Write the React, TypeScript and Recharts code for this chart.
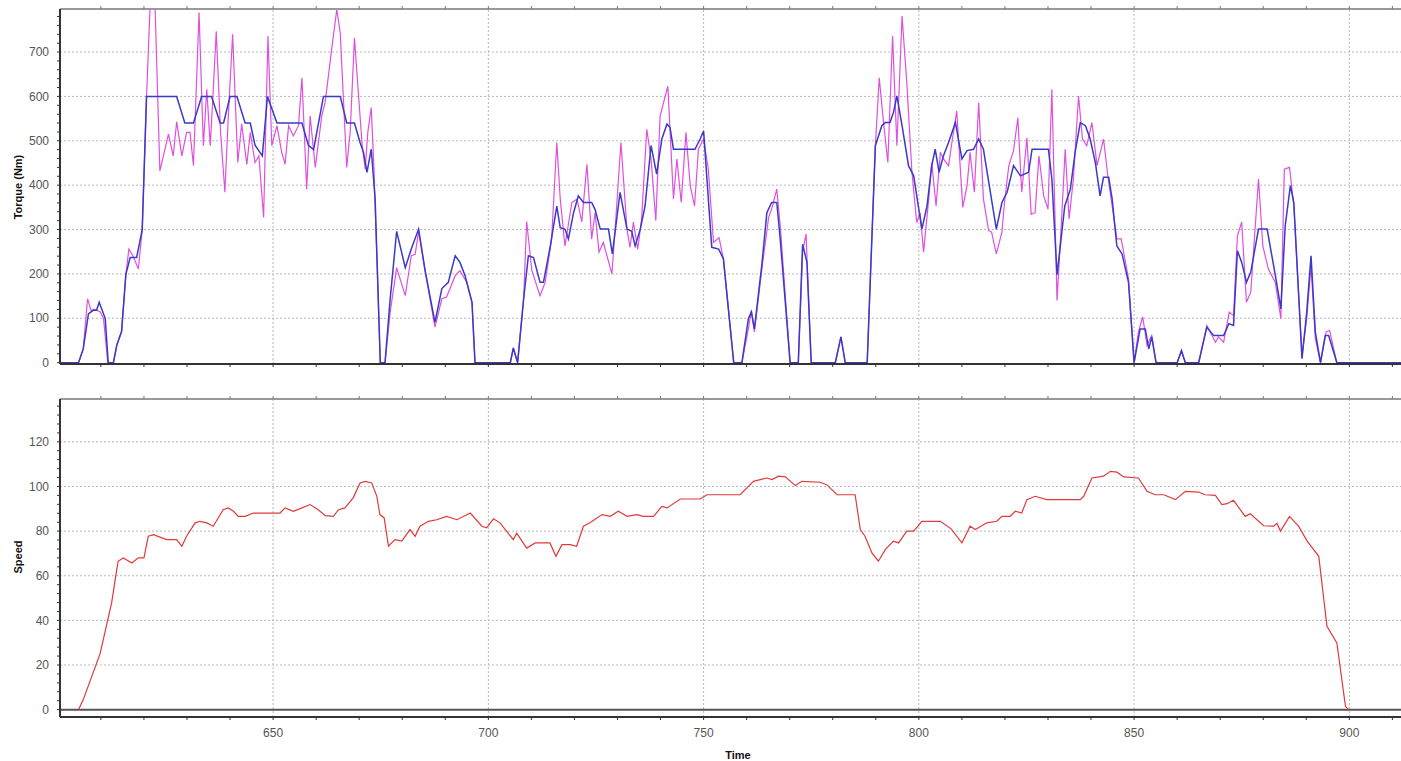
import { LineChart, Line, XAxis, YAxis, ReferenceLine } from "recharts";

// torque request (magenta) [time s, Nm]
const torqueDemand: [number, number][] = [
  [600.5, 0], [604.8, 0], [605.9, 31], [606.9, 144], [607.7, 118], [608.6, 120], [609.8, 115], [610.6, 100],
  [611.6, 0], [612.9, 0], [613.7, 40], [614.8, 70], [615.8, 199], [616.5, 256], [617.5, 240], [618.7, 211],
  [619.6, 300], [620.6, 600], [621.5, 820], [622.5, 830], [623.7, 432], [625.7, 515], [626.8, 466], [627.6, 543],
  [628.8, 466], [629.9, 519], [630.7, 519], [631.5, 444], [632.8, 789], [633.8, 489], [634.6, 616], [635.4, 489],
  [635.9, 578], [636.8, 747], [637.8, 519], [638.8, 384], [639.6, 556], [640.6, 740], [641.8, 451], [642.7, 538],
  [643.9, 447], [644.7, 519], [645.8, 451], [646.7, 466], [647.8, 327], [648.8, 736], [649.7, 489], [650.9, 534],
  [652.0, 474], [652.8, 447], [653.6, 534], [654.7, 511], [655.9, 534], [656.7, 642], [657.8, 391], [658.6, 556],
  [659.8, 440], [661.3, 556], [662.1, 587], [663.6, 706], [664.8, 796], [665.6, 743], [667.1, 440], [667.9, 519],
  [668.9, 732], [669.8, 609], [670.7, 489], [671.4, 436], [672.0, 519], [672.8, 575], [673.4, 444], [674.9, 0],
  [676.0, 0], [677.2, 114], [678.7, 214], [680.7, 151], [682.1, 241], [683.0, 244], [683.8, 296], [685.3, 208],
  [687.6, 80], [689.2, 144], [690.3, 148], [692.3, 196], [693.4, 207], [695.0, 181], [696.2, 136], [696.9, 0],
  [705.1, 0], [705.8, 33], [706.8, 0], [708.2, 144], [708.9, 318], [710.1, 208], [712.0, 151], [713.2, 181],
  [714.7, 279], [715.9, 496], [716.7, 369], [717.8, 263], [719.4, 361], [720.6, 369], [721.7, 317], [722.9, 447],
  [724.0, 279], [724.8, 338], [725.7, 249], [726.7, 271], [728.7, 200], [729.4, 294], [730.8, 496], [732.2, 301],
  [732.9, 260], [733.7, 317], [734.7, 256], [735.6, 324], [736.8, 526], [737.8, 459], [738.9, 320], [739.9, 556],
  [741.7, 623], [743.0, 369], [743.8, 459], [744.8, 361], [745.9, 519], [746.9, 399], [747.9, 353], [748.8, 481],
  [750.0, 504], [751.1, 436], [752.3, 271], [753.6, 282], [754.6, 234], [757.0, 0], [758.9, 0], [760.4, 76],
  [761.1, 118], [761.8, 69], [763.5, 208], [765.1, 327], [765.8, 346], [767.0, 391], [767.8, 309], [770.1, 0],
  [772.0, 0], [773.0, 249], [773.8, 290], [775.0, 0], [780.6, 0], [781.9, 58], [782.9, 0], [788.0, 0],
  [789.9, 489], [790.8, 642], [791.8, 541], [792.8, 451], [793.9, 736], [794.9, 489], [796.1, 781], [797.2, 631],
  [798.4, 429], [799.5, 316], [800.3, 338], [801.1, 249], [802.3, 369], [803.0, 451], [804.0, 353], [805.0, 474],
  [805.7, 459], [806.9, 444], [807.8, 504], [808.8, 567], [810.2, 350], [811.2, 399], [811.9, 474], [812.9, 384],
  [813.9, 586], [815.0, 369], [816.2, 298], [816.9, 294], [818.0, 245], [819.3, 294], [819.9, 361], [820.9, 444],
  [822.0, 478], [823.0, 552], [823.9, 384], [825.1, 507], [826.1, 334], [827.0, 338], [827.9, 466], [829.0, 376],
  [830.0, 346], [830.9, 616], [832.1, 140], [833.2, 331], [834.0, 481], [834.9, 324], [835.9, 414], [837.1, 601],
  [838.0, 504], [839.0, 489], [840.2, 541], [841.4, 444], [842.9, 504], [843.9, 421], [846.0, 279], [847.0, 279],
  [848.7, 189], [850.0, 0], [851.0, 69], [852.0, 103], [853.0, 39], [854.1, 61], [855.1, 0], [860.0, 0],
  [861.0, 27], [861.9, 0], [865.0, 0], [866.9, 84], [868.9, 46], [869.6, 58], [870.8, 46], [872.1, 114],
  [873.1, 106], [874.0, 286], [875.0, 317], [876.1, 136], [877.1, 159], [878.9, 414], [879.9, 263], [881.2, 211],
  [882.8, 181], [884.1, 99], [884.9, 436], [886.1, 440], [887.1, 353], [889.0, 16], [890.1, 99], [891.1, 219],
  [892.1, 54], [893.3, 0], [894.6, 69], [895.4, 73], [897.1, 0], [912, 0],
];

// delivered torque (blue) [time s, Nm]
const torqueActual: [number, number][] = [
  [600.5, 0], [604.8, 0], [605.9, 31], [607.1, 110], [608.2, 118], [609.0, 118], [609.6, 136], [611.0, 100],
  [611.7, 0], [612.9, 0], [613.7, 40], [614.8, 70], [615.8, 199], [616.8, 237], [618.3, 237], [619.6, 300],
  [620.6, 600], [627.6, 600], [629.5, 540], [631.5, 540], [633.4, 600], [635.7, 600], [637.7, 540], [638.5, 540],
  [640.0, 600], [641.6, 600], [643.5, 540], [644.7, 540], [645.8, 490], [647.5, 466], [648.7, 600], [650.9, 540],
  [656.7, 540], [658.2, 490], [659.4, 480], [661.7, 600], [665.6, 600], [667.1, 540], [668.9, 540], [670.2, 496],
  [671.0, 474], [671.8, 429], [672.8, 481], [673.7, 369], [674.9, 0], [676.0, 0], [677.2, 144], [678.7, 296],
  [680.7, 214], [682.2, 259], [683.8, 301], [685.3, 208], [687.6, 91], [689.2, 167], [690.7, 181], [692.3, 241],
  [693.4, 226], [694.6, 196], [696.2, 136], [696.9, 0], [705.1, 0], [705.8, 33], [706.8, 0], [708.2, 144],
  [709.3, 241], [710.5, 237], [712.0, 181], [712.8, 181], [714.4, 263], [715.9, 353], [716.7, 304], [717.8, 301],
  [718.6, 279], [719.8, 338], [720.9, 376], [722.1, 361], [724.0, 361], [724.8, 345], [726.0, 301], [727.9, 301],
  [728.8, 245], [730.6, 384], [732.2, 301], [733.3, 296], [734.1, 263], [735.3, 301], [736.4, 353], [737.8, 489],
  [739.1, 425], [740.3, 504], [741.5, 538], [742.2, 530], [743.0, 481], [748.0, 481], [749.2, 504], [750.0, 522],
  [751.1, 369], [751.9, 260], [753.5, 256], [754.6, 234], [757.0, 0], [758.9, 0], [760.4, 99], [761.1, 114],
  [761.8, 76], [763.5, 218], [764.7, 338], [765.8, 361], [767.0, 361], [767.8, 279], [770.1, 0], [772.0, 0],
  [773.0, 267], [774.0, 226], [775.0, 0], [780.6, 0], [781.9, 58], [782.9, 0], [788.0, 0], [789.9, 489],
  [791.4, 534], [792.2, 541], [793.3, 541], [794.1, 564], [794.9, 601], [796.1, 534], [797.6, 444], [798.8, 421],
  [800.7, 301], [801.9, 353], [803.0, 444], [803.8, 481], [804.7, 429], [805.7, 466], [806.9, 496], [808.5, 541],
  [810.0, 459], [811.2, 478], [812.7, 481], [813.9, 504], [815.0, 481], [818.0, 301], [819.3, 361], [820.5, 384],
  [822.0, 444], [823.6, 421], [825.5, 429], [826.3, 481], [830.1, 481], [830.9, 414], [832.1, 198], [833.9, 353],
  [835.2, 391], [836.3, 474], [837.5, 541], [838.7, 534], [839.8, 504], [841.0, 451], [842.1, 376], [842.9, 418],
  [844.1, 418], [844.9, 369], [846.0, 263], [847.2, 245], [848.7, 181], [850.0, 0], [851.4, 76], [852.6, 76],
  [853.4, 31], [854.1, 58], [855.1, 0], [860.0, 0], [861.0, 27], [861.9, 0], [865.0, 0], [866.9, 80],
  [868.5, 61], [870.8, 61], [872.0, 88], [873.1, 84], [874.0, 252], [875.0, 226], [876.1, 181], [877.1, 204],
  [878.9, 301], [880.9, 301], [882.4, 219], [883.2, 174], [884.1, 121], [885.1, 308], [886.3, 399], [887.1, 361],
  [889.0, 9], [890.1, 114], [891.1, 241], [892.1, 69], [893.3, 0], [894.4, 61], [895.2, 61], [897.1, 0], [912, 0],
];

// vehicle speed (red) [time s, km/h]
const speed: [number, number][] = [
  [604.8, 0], [605.9, 4.5], [609.8, 25], [612.5, 48], [613.7, 63], [614.0, 66.5], [615.2, 68], [617.2, 65.7],
  [618.7, 68], [620.0, 68], [621.0, 77.7], [622.2, 78.4], [625.3, 76.2], [627.6, 76.2], [628.8, 73.2], [629.9, 77.7],
  [631.9, 83.7], [633.0, 84.4], [634.6, 83.7], [636.1, 82.2], [638.4, 89.6], [639.6, 90.4], [640.8, 88.9], [641.9, 86.6],
  [643.5, 86.6], [645.4, 88.1], [651.6, 88.1], [652.8, 90.4], [654.7, 88.9], [656.7, 90.4], [658.6, 91.9], [660.5, 89.6],
  [662.1, 86.9], [664.0, 86.6], [665.2, 89.6], [666.7, 90.4], [668.6, 94.9], [670.2, 101.6], [671.4, 102.3], [672.9, 101.6],
  [674.1, 95.6], [674.8, 87.4], [675.8, 85.9], [676.8, 73.2], [678.3, 76.2], [679.9, 75.5], [681.8, 80.7], [683.0, 77.7],
  [684.1, 82.2], [686.1, 84.4], [688.0, 85.1], [690.3, 86.6], [692.7, 85.1], [695.8, 88.1], [698.5, 82.2], [699.6, 81.5],
  [701.2, 85.5], [702.7, 83.7], [705.8, 76.2], [706.6, 79.1], [708.9, 72.4], [710.9, 74.7], [714.3, 74.7], [715.7, 68.7],
  [717.1, 73.9], [719.0, 73.9], [720.5, 73.2], [722.1, 82.2], [723.6, 83.7], [726.4, 87.4], [728.3, 86.6], [730.2, 88.9],
  [732.2, 86.6], [734.5, 87.4], [736.0, 86.6], [738.4, 86.6], [740.3, 91.1], [741.5, 90.4], [744.6, 94.4], [749.2, 94.4],
  [750.8, 96.3], [758.5, 96.3], [761.6, 102.3], [764.7, 103.8], [765.9, 103.1], [767.4, 104.6], [769.0, 104.3], [771.3, 100.4],
  [772.8, 102.3], [777.1, 101.9], [778.6, 100.8], [781.0, 96.3], [785.2, 96.3], [786.4, 80.7], [787.5, 77.7], [789.1, 70.2],
  [790.6, 66.5], [792.2, 71.7], [794.1, 75.5], [795.3, 74.7], [797.2, 80.0], [798.8, 80.0], [800.7, 84.4], [805.0, 84.4],
  [807.5, 81.0], [810.0, 74.7], [811.9, 82.2], [813.1, 80.7], [815.8, 83.7], [818.1, 84.4], [819.3, 86.6], [821.2, 86.6],
  [822.4, 88.9], [823.9, 88.1], [825.1, 94.1], [827.0, 95.6], [829.7, 94.1], [837.5, 94.1], [838.3, 95.6], [840.2, 103.8],
  [842.9, 104.6], [844.5, 106.8], [846.0, 106.4], [847.6, 104.3], [851.0, 103.8], [853.0, 97.8], [854.9, 96.3], [856.9, 96.3],
  [859.6, 94.1], [861.9, 97.8], [865.0, 97.5], [866.5, 96.3], [868.9, 96.0], [870.4, 91.9], [871.6, 92.3], [873.1, 93.8],
  [875.8, 86.6], [877.0, 87.8], [880.1, 82.4], [882.4, 82.2], [883.2, 83.4], [884.0, 80.0], [886.1, 86.6], [888.2, 82.2],
  [890.2, 75.5], [892.9, 68.7], [894.8, 37.3], [897.1, 29.9], [899.1, 1.5], [899.8, 0],
];

const timeLabels = [650, 700, 750, 800, 850, 900];
const timeTicks = [610, 620, 630, 640, 650, 660, 670, 680, 690, 700, 710, 720, 730, 740, 750, 760,
  770, 780, 790, 800, 810, 820, 830, 840, 850, 860, 870, 880, 890, 900, 910];
const torqueLabels = [0, 100, 200, 300, 400, 500, 600, 700];
const torqueTicks = [0, 20, 40, 60, 80, 100, 120, 140, 160, 180, 200, 220, 240, 260, 280, 300, 320, 340,
  360, 380, 400, 420, 440, 460, 480, 500, 520, 540, 560, 580, 600, 620, 640, 660, 680, 700, 720, 740, 760, 780];
const speedLabels = [0, 20, 40, 60, 80, 100, 120];
const speedTicks = [0, 4, 8, 12, 16, 20, 24, 28, 32, 36, 40, 44, 48, 52, 56, 60, 64, 68, 72, 76, 80, 84,
  88, 92, 96, 100, 104, 108, 112, 116, 120, 124, 128, 132, 136];

const timeDomain = [600.5, 912];
const torqueDomain = [-3, 797];
const speedDomain = [-3.3, 139.2];

const pts = (arr: [number, number][]) => arr.map(([t, v]) => ({ t, v }));

const FONT = "'Liberation Sans', Arial, sans-serif";
const GRID = { stroke: "#b8b8b8", strokeDasharray: "2 2", strokeWidth: 1 };

function labelTick(labels: number[], anchor: "end" | "middle") {
  return (props: any) => {
    const { x, y, payload } = props;
    if (!labels.includes(payload.value)) return <g />;
    return (
      <text x={x} y={y} dy={anchor === "end" ? "0.35em" : "0.75em"} textAnchor={anchor}
        fill="#555" fontSize={12} fontFamily={FONT}>
        {payload.value}
      </text>
    );
  };
}

const noLabel = () => <g />;

function Title({ text, x, y, rotate }: { text: string; x: number; y: number; rotate?: boolean }) {
  return (
    <div style={{
      position: "absolute", left: x, top: y, whiteSpace: "nowrap",
      transform: `translate(-50%, -50%)${rotate ? " rotate(-90deg)" : ""}`,
      fontFamily: FONT, fontWeight: "bold", fontSize: 11, color: "#111",
    }}>{text}</div>
  );
}

export default function App() {
  return (
    <div style={{ position: "absolute", left: 0, top: 0, width: 1401, height: 761, background: "#fff", overflow: "hidden" }}>
      <div style={{ position: "absolute", left: 0, top: 0 }}>
        <LineChart width={1401} height={372} margin={{ top: 8, right: 0, bottom: 0, left: 0 }}>
          <XAxis xAxisId="t" dataKey="t" type="number" domain={timeDomain} ticks={timeTicks} interval={0}
            allowDataOverflow height={8} tick={noLabel} tickSize={3}
            axisLine={{ stroke: "#333", strokeWidth: 2 }} tickLine={{ stroke: "#333" }} />
          <XAxis xAxisId="frame" orientation="top" dataKey="t" type="number" domain={timeDomain} ticks={timeTicks}
            interval={0} allowDataOverflow height={1} tick={noLabel} tickSize={3}
            axisLine={{ stroke: "#999", strokeWidth: 2 }} tickLine={{ stroke: "#777" }} />
          <YAxis type="number" domain={torqueDomain} ticks={torqueTicks} interval={0} allowDataOverflow width={60}
            tick={labelTick(torqueLabels, "end")} tickSize={3} tickMargin={8}
            axisLine={{ stroke: "#333", strokeWidth: 2 }} tickLine={{ stroke: "#333" }} />
          {timeLabels.map((v) => (
            <ReferenceLine key={"vx" + v} xAxisId="t" x={v} {...GRID} />
          ))}
          {torqueLabels.filter((v) => v > 0).map((v) => (
            <ReferenceLine key={"hy" + v} xAxisId="t" y={v} {...GRID} />
          ))}
          <Line xAxisId="t" data={pts(torqueDemand)} dataKey="v" type="linear" stroke="#e050e0"
            strokeWidth={1.2} dot={false} isAnimationActive={false} />
          <Line xAxisId="t" data={pts(torqueActual)} dataKey="v" type="linear" stroke="#3a3ac8"
            strokeWidth={1.5} dot={false} isAnimationActive={false} />
        </LineChart>
      </div>
      <div style={{ position: "absolute", left: 0, top: 380 }}>
        <LineChart width={1401} height={381} margin={{ top: 18, right: 0, bottom: 0, left: 0 }}>
          <XAxis xAxisId="t" dataKey="t" type="number" domain={timeDomain} ticks={timeTicks} interval={0}
            allowDataOverflow height={44} tick={labelTick(timeLabels, "middle")} tickSize={3} tickMargin={8}
            axisLine={{ stroke: "#333", strokeWidth: 2 }} tickLine={{ stroke: "#333" }} />
          <XAxis xAxisId="frame" orientation="top" dataKey="t" type="number" domain={timeDomain} ticks={timeTicks}
            interval={0} allowDataOverflow height={1} tick={noLabel} tickSize={3}
            axisLine={{ stroke: "#999", strokeWidth: 2 }} tickLine={{ stroke: "#777" }} />
          <YAxis type="number" domain={speedDomain} ticks={speedTicks} interval={0} allowDataOverflow width={60}
            tick={labelTick(speedLabels, "end")} tickSize={3} tickMargin={8}
            axisLine={{ stroke: "#333", strokeWidth: 2 }} tickLine={{ stroke: "#333" }} />
          {timeLabels.map((v) => (
            <ReferenceLine key={"vx" + v} xAxisId="t" x={v} {...GRID} />
          ))}
          {speedLabels.filter((v) => v > 0).map((v) => (
            <ReferenceLine key={"hy" + v} xAxisId="t" y={v} {...GRID} />
          ))}
          <ReferenceLine xAxisId="t" y={0} stroke="#555" strokeWidth={2} />
          <Line xAxisId="t" data={pts(speed)} dataKey="v" type="linear" stroke="#e03a3a"
            strokeWidth={1.2} dot={false} isAnimationActive={false} />
        </LineChart>
      </div>
      <Title text="Torque (Nm)" x={18} y={187} rotate />
      <Title text="Speed" x={18} y={557} rotate />
      <Title text="Time" x={738} y={755} />
    </div>
  );
}
